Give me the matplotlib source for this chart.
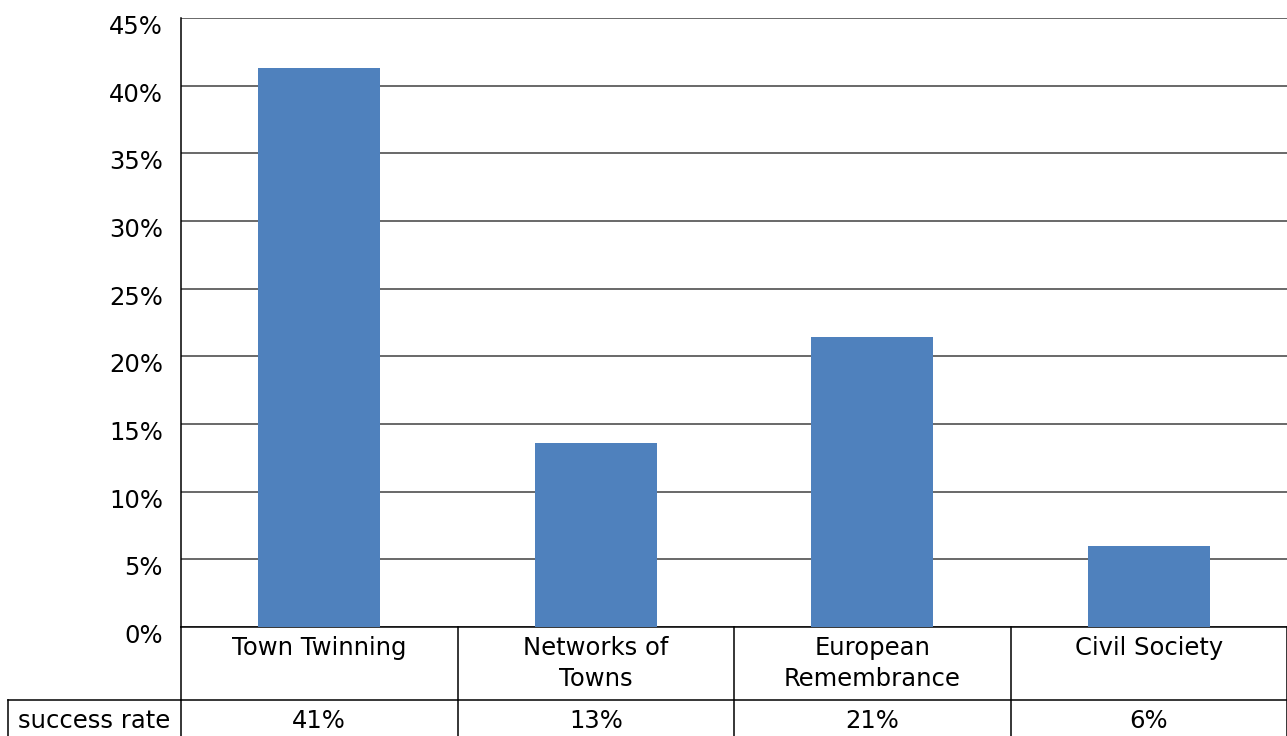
import matplotlib.pyplot as plt
import matplotlib.transforms as mtransforms
from matplotlib.ticker import FuncFormatter

# data

categories = ['Town Twinning', 'Networks of\nTowns', 'European\nRemembrance', 'Civil Society']
success_rate = [0.413, 0.136, 0.214, 0.060]
rate_labels = ['41%', '13%', '21%', '6%']
row_label = 'success rate'
y_ticks = [0, 0.05, 0.10, 0.15, 0.20, 0.25, 0.30, 0.35, 0.40, 0.45]

plt.rcParams['font.family'] = ['DejaVu Sans']

W, H = 1287, 736
fig = plt.figure(figsize=(W / 100, H / 100), dpi=100)

# axes box in pixels: left 181, right 1287, top 18, bottom 627
ax = fig.add_axes([181 / W, 1 - 627 / H, (1287 - 181) / W, (627 - 18) / H])

x = list(range(len(categories)))
ax.bar(x, success_rate, width=0.44, color='#4F81BD', zorder=3)

ax.set_xlim(-0.5, len(categories) - 0.5)
ax.set_ylim(0, 0.45)
ax.set_yticks(y_ticks)
ax.yaxis.set_major_formatter(FuncFormatter(lambda v, p: '%d%%' % round(v * 100)))
ax.grid(axis='y', color='#404040', linewidth=1.1, zorder=0)
ax.tick_params(axis='y', length=0, pad=13, labelsize=17.5)
for lab in ax.get_yticklabels():
    lab.set_verticalalignment('top')
    lab.set_transform(lab.get_transform() +
                      mtransforms.ScaledTranslation(0, 3 / 100, fig.dpi_scale_trans))
ax.set_xticks([])
for s in ['top', 'right', 'bottom']:
    ax.spines[s].set_visible(False)
ax.spines['left'].set_color('black')
ax.spines['left'].set_linewidth(1.1)

# data table under the axes
trans = mtransforms.blended_transform_factory(ax.transData, ax.transAxes)
row1 = -73 / 609
row2 = -150 / 609
lw = 1.1
kw = dict(color='black', linewidth=lw, transform=trans, clip_on=False)

ax.plot([-0.5, len(categories) - 0.5], [0, 0], **kw)
for b in range(len(categories) + 1):
    ax.plot([b - 0.5, b - 0.5], [0, row2], **kw)
ax.plot([-0.5, len(categories) - 0.5], [row1, row1], **kw)

for i, cat in enumerate(categories):
    ax.text(i, -0.014, cat, transform=trans, ha='center', va='top',
            fontsize=17.5, linespacing=1.4)
    ax.text(i, row1 - 0.015, rate_labels[i], transform=trans, ha='center',
            va='top', fontsize=17.5)

# row label cell at the left
axt = ax.transAxes
lx0 = -(181 - 8) / (1287 - 181)
ax.plot([lx0, 0], [row1, row1], color='black', linewidth=lw,
        transform=axt, clip_on=False)
ax.plot([lx0, lx0], [row1, row2], color='black', linewidth=lw,
        transform=axt, clip_on=False)
ax.text(lx0 / 2, row1 - 0.015, row_label, transform=axt, ha='center',
        va='top', fontsize=17.5)

fig.savefig('out.png', dpi=100)
